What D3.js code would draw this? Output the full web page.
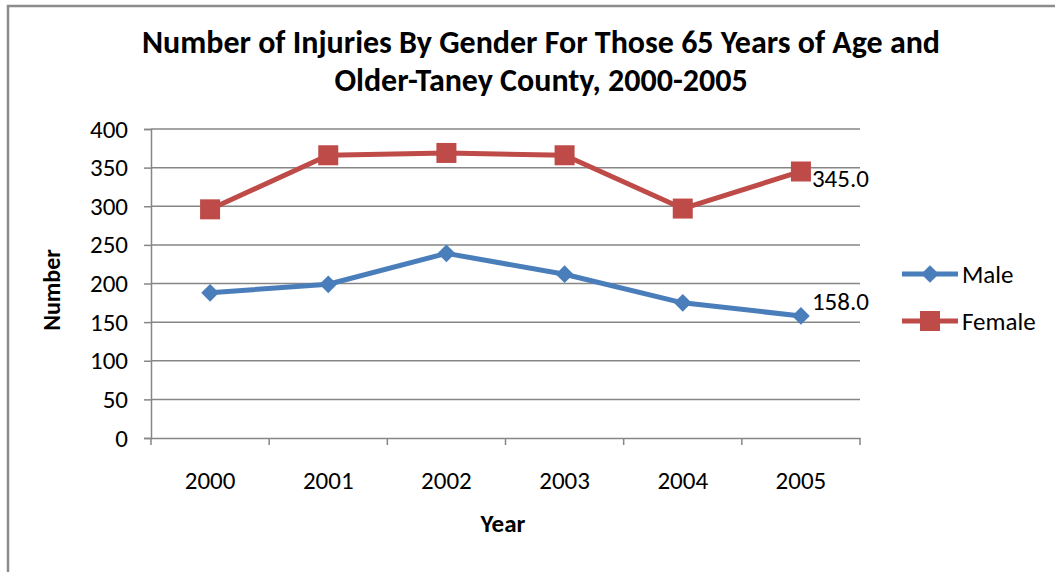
<!DOCTYPE html>
<html>
<head>
<meta charset="utf-8">
<script src="https://cdn.jsdelivr.net/npm/d3@7"></script>
<style>
  body { margin: 0; background: #fff; }
  svg { display: block; }
  svg text { font-family: Carlito, Calibri, Lato, sans-serif; }
</style>
</head>
<body>
<svg width="1055" height="572"></svg>
<script>
// data
var years = ["2000", "2001", "2002", "2003", "2004", "2005"];
var male = [188, 199, 239, 212, 175, 158];
var female = [296, 366, 369, 366, 297, 345];
var yTicks = [0, 50, 100, 150, 200, 250, 300, 350, 400];
var seriesNames = ["Male", "Female"];
var seriesColors = ["#4a7ebb", "#be4b48"];

var svg = d3.select("svg");

// outer chart border (clipped on the right and bottom)
svg.append("rect")
  .attr("x", 8).attr("y", 6)
  .attr("width", 1100).attr("height", 600)
  .attr("fill", "none")
  .attr("stroke", "#8c8c8c")
  .attr("stroke-width", 2.5);

var plotL = 151, plotR = 860, plotT = 129, plotB = 438;

var x = d3.scaleBand().domain(years).range([plotL, plotR]);
var y = d3.scaleLinear().domain([0, 400]).range([plotB, plotT]);

// gridlines
svg.append("g").selectAll("line")
  .data(yTicks.slice(1))
  .enter().append("line")
    .attr("x1", plotL).attr("x2", plotR)
    .attr("y1", function(d) { return y(d); })
    .attr("y2", function(d) { return y(d); })
    .attr("stroke", "#868686")
    .attr("stroke-width", 1.5);

// y axis
var yAxis = svg.append("g")
  .attr("transform", "translate(" + plotL + ",0)")
  .call(d3.axisLeft(y).tickValues(yTicks).tickSize(7).tickPadding(16));
yAxis.attr("font-family", null);
yAxis.select(".domain").attr("stroke", "#868686").attr("stroke-width", 1.5);
yAxis.selectAll(".tick line").attr("stroke", "#868686").attr("stroke-width", 1.5);
yAxis.selectAll("text").style("font-size", "25px").attr("fill", "#000");

// x axis
var xAxis = svg.append("g")
  .attr("transform", "translate(0," + plotB + ")")
  .call(d3.axisBottom(x).tickSize(0).tickPadding(33));
xAxis.attr("font-family", null);
xAxis.select(".domain").attr("stroke", "#868686").attr("stroke-width", 1.5);
xAxis.selectAll("text").style("font-size", "25px").attr("fill", "#000");
// tick marks between categories
xAxis.selectAll(".sep")
  .data(d3.range(years.length + 1))
  .enter().append("line")
    .attr("x1", function(i) { return plotL + i * x.step(); })
    .attr("x2", function(i) { return plotL + i * x.step(); })
    .attr("y1", 0).attr("y2", 7)
    .attr("stroke", "#868686").attr("stroke-width", 1.5);

// lines
var line = d3.line()
  .x(function(d, i) { return x(years[i]) + x.bandwidth() / 2; })
  .y(function(d) { return y(d); });

[male, female].forEach(function(vals, k) {
  svg.append("path")
    .datum(vals)
    .attr("d", line)
    .attr("fill", "none")
    .attr("stroke", seriesColors[k])
    .attr("stroke-width", 5)
    .attr("stroke-linejoin", "round");
});

// markers
svg.append("g").selectAll("path")
  .data(male)
  .enter().append("path")
    .attr("d", d3.symbol().type(d3.symbolDiamond2).size(200))
    .attr("transform", function(d, i) {
      return "translate(" + (x(years[i]) + x.bandwidth() / 2) + "," + y(d) + ")";
    })
    .attr("fill", seriesColors[0]);

svg.append("g").selectAll("rect")
  .data(female)
  .enter().append("rect")
    .attr("x", function(d, i) { return x(years[i]) + x.bandwidth() / 2 - 10; })
    .attr("y", function(d) { return y(d) - 10; })
    .attr("width", 20).attr("height", 20)
    .attr("fill", seriesColors[1]);

// data labels on last point (male sits above-right, female below-right)
var labelShift = [-6, 16];
[male, female].forEach(function(vals, k) {
  var last = vals.length - 1;
  svg.append("text")
    .attr("x", x(years[last]) + x.bandwidth() / 2 + 11)
    .attr("y", y(vals[last]) + labelShift[k])
    .style("font-size", "25px")
    .text(vals[last].toFixed(1));
});

// title
svg.append("text")
  .attr("x", 541).attr("y", 53)
  .attr("text-anchor", "middle")
  .style("font-size", "32px").style("font-weight", "bold")
  .text("Number of Injuries By Gender For Those 65 Years of Age and");
svg.append("text")
  .attr("x", 541).attr("y", 91)
  .attr("text-anchor", "middle")
  .style("font-size", "32px").style("font-weight", "bold")
  .text("Older-Taney County, 2000-2005");

// axis titles
svg.append("text")
  .attr("transform", "translate(60,290) rotate(-90)")
  .attr("text-anchor", "middle")
  .style("font-size", "24px").style("font-weight", "bold")
  .text("Number");
svg.append("text")
  .attr("x", 503).attr("y", 532)
  .attr("text-anchor", "middle")
  .style("font-size", "25px").style("font-weight", "bold")
  .text("Year");

// legend
var legend = svg.append("g").selectAll("g")
  .data(seriesNames)
  .enter().append("g")
    .attr("transform", function(d, i) { return "translate(902," + (274 + i * 47) + ")"; });
legend.append("line")
  .attr("x1", 0).attr("x2", 56)
  .attr("stroke", function(d, i) { return seriesColors[i]; })
  .attr("stroke-width", 5);
legend.filter(function(d, i) { return i === 0; }).append("path")
  .attr("d", d3.symbol().type(d3.symbolDiamond2).size(200))
  .attr("transform", "translate(28,0)")
  .attr("fill", seriesColors[0]);
legend.filter(function(d, i) { return i === 1; }).append("rect")
  .attr("x", 18).attr("y", -10).attr("width", 20).attr("height", 20)
  .attr("fill", seriesColors[1]);
legend.append("text")
  .attr("x", 60).attr("dy", "0.35em")
  .style("font-size", "25px")
  .text(function(d) { return d; });
</script>
</body>
</html>
